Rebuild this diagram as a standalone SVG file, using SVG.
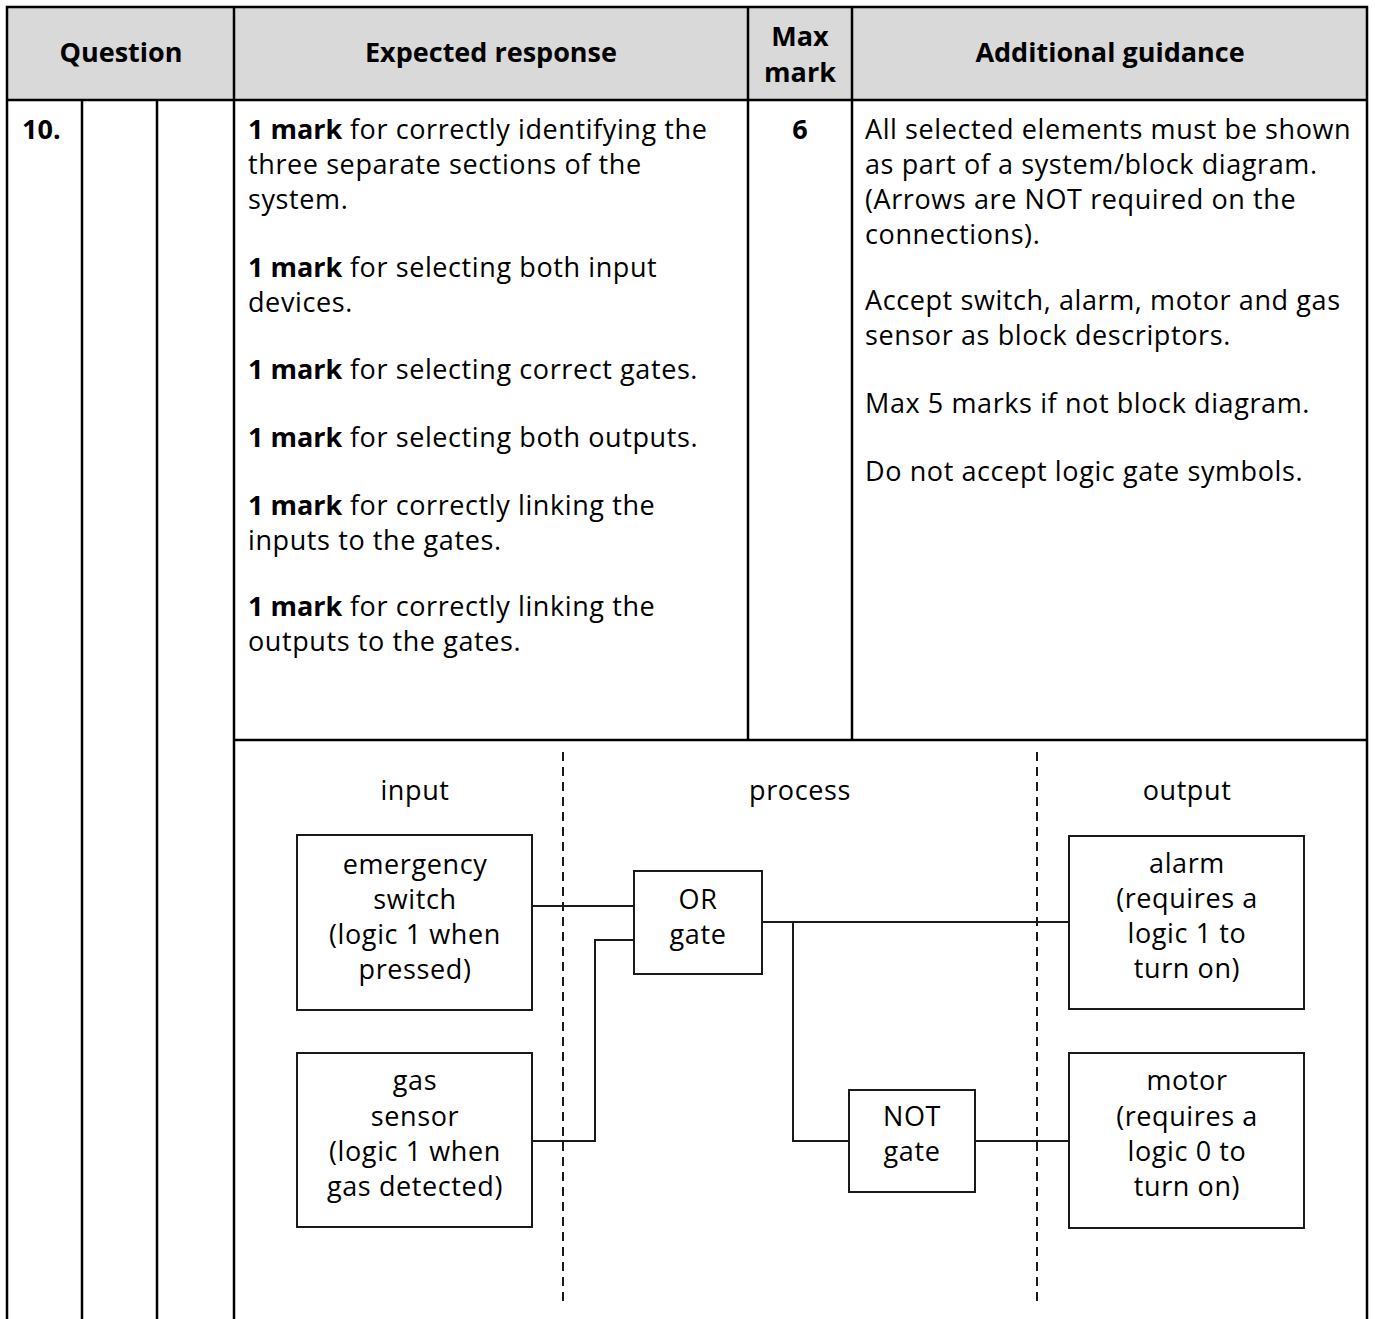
<svg xmlns="http://www.w3.org/2000/svg" width="1375" height="1319" viewBox="0 0 1375 1319">
<style>
text{font-family:"Open Sans","Noto Sans","DejaVu Sans",sans-serif;font-size:27px;fill:#000;letter-spacing:0.6px}
.b{font-weight:bold;letter-spacing:0}
.c{text-anchor:middle}
.grid{stroke:#000;stroke-width:2.5;fill:none}
.box{stroke:#1a1a1a;stroke-width:2;fill:#fff}
.wire{stroke:#1a1a1a;stroke-width:2;fill:none}
.dash{stroke:#1a1a1a;stroke-width:2;stroke-dasharray:9 6;fill:none}
</style>
<rect x="0" y="0" width="1375" height="1319" fill="#fff"/>
<g id="table">
<rect x="7" y="7" width="1360" height="93" fill="#d9d9d9"/>
<path class="grid" d="M7 1319V7H1367V1319M7 100H1367M82 100V1319M157 100V1319M234 7V1319M748 7V740M852 7V740M234 740H1367"/>
<text class="b c" x="121" y="62">Question</text>
<text class="b c" x="491" y="62">Expected response</text>
<text class="b c" x="800" y="46">Max</text>
<text class="b c" x="800" y="82">mark</text>
<text class="b c" x="1110" y="62">Additional guidance</text>
<text class="b" x="22" y="139">10.</text>
<text class="b c" x="800" y="139">6</text>
<text x="248" y="139"><tspan class="b">1 mark</tspan> for correctly identifying the</text>
<text x="248" y="174">three separate sections of the</text>
<text x="248" y="209">system.</text>
<text x="248" y="277"><tspan class="b">1 mark</tspan> for selecting both input</text>
<text x="248" y="312">devices.</text>
<text x="248" y="379"><tspan class="b">1 mark</tspan> for selecting correct gates.</text>
<text x="248" y="447"><tspan class="b">1 mark</tspan> for selecting both outputs.</text>
<text x="248" y="515"><tspan class="b">1 mark</tspan> for correctly linking the</text>
<text x="248" y="550">inputs to the gates.</text>
<text x="248" y="616"><tspan class="b">1 mark</tspan> for correctly linking the</text>
<text x="248" y="651">outputs to the gates.</text>
<text x="865" y="139">All selected elements must be shown</text>
<text x="865" y="174">as part of a system/block diagram.</text>
<text x="865" y="209">(Arrows are NOT required on the</text>
<text x="865" y="244">connections).</text>
<text x="865" y="310">Accept switch, alarm, motor and gas</text>
<text x="865" y="345">sensor as block descriptors.</text>
<text x="865" y="413">Max 5 marks if not block diagram.</text>
<text x="865" y="481">Do not accept logic gate symbols.</text>
</g>
<g id="sections">
<path class="dash" d="M563 752V1307M1037 752V1307"/>
<text class="c" x="415" y="800">input</text>
<text class="c" x="800" y="800">process</text>
<text class="c" x="1187" y="800">output</text>
</g>
<g id="connectors">
<path class="wire" d="M532 906H634"/>
<path class="wire" d="M532 1141H595V940H634"/>
<path class="wire" d="M762 922H1069"/>
<path class="wire" d="M793 922V1141H849"/>
<path class="wire" d="M975 1141H1069"/>
</g>
<g id="emergency-switch">
<rect class="box" x="297" y="835" width="235" height="175"/>
<text class="c" x="415" y="874">emergency</text>
<text class="c" x="415" y="909">switch</text>
<text class="c" x="415" y="944">(logic 1 when</text>
<text class="c" x="415" y="979">pressed)</text>
</g>
<g id="gas-sensor">
<rect class="box" x="297" y="1053" width="235" height="174"/>
<text class="c" x="415" y="1090">gas</text>
<text class="c" x="415" y="1126">sensor</text>
<text class="c" x="415" y="1161">(logic 1 when</text>
<text class="c" x="415" y="1196">gas detected)</text>
</g>
<g id="or-gate">
<rect class="box" x="634" y="871" width="128" height="103"/>
<text class="c" x="698" y="909">OR</text>
<text class="c" x="698" y="944">gate</text>
</g>
<g id="not-gate">
<rect class="box" x="849" y="1090" width="126" height="102"/>
<text class="c" x="912" y="1126">NOT</text>
<text class="c" x="912" y="1161">gate</text>
</g>
<g id="alarm">
<rect class="box" x="1069" y="836" width="235" height="173"/>
<text class="c" x="1187" y="873">alarm</text>
<text class="c" x="1187" y="908">(requires a</text>
<text class="c" x="1187" y="943">logic 1 to</text>
<text class="c" x="1187" y="978">turn on)</text>
</g>
<g id="motor">
<rect class="box" x="1069" y="1053" width="235" height="175"/>
<text class="c" x="1187" y="1090">motor</text>
<text class="c" x="1187" y="1126">(requires a</text>
<text class="c" x="1187" y="1161">logic 0 to</text>
<text class="c" x="1187" y="1196">turn on)</text>
</g>
</svg>
